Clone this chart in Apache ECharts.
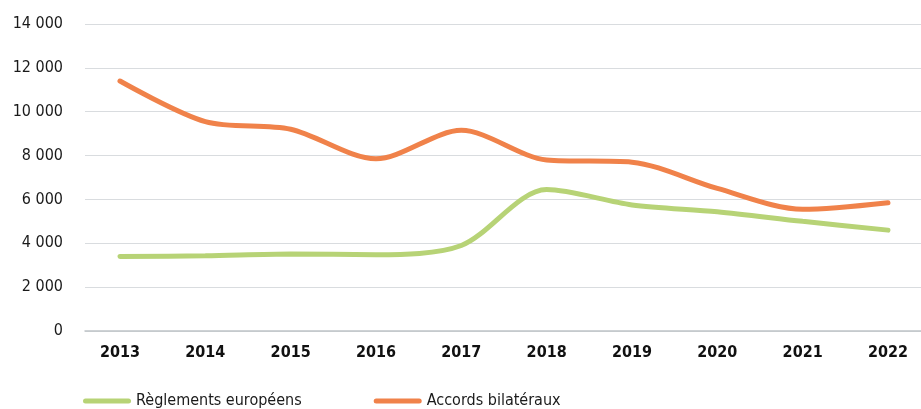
<!DOCTYPE html>
<html>
<head>
<meta charset="utf-8">
<style>
  html, body { margin: 0; padding: 0; background: #fff; }
  #chart { width: 921px; height: 409px; }
</style>
<script src="https://cdn.jsdelivr.net/npm/echarts@6/dist/echarts.min.js"></script>
</head>
<body>
<div id="chart"></div>
<script>
// Data
const years = [2013, 2014, 2015, 2016, 2017, 2018, 2019, 2020, 2021, 2022];
const reglementsEuropeens = [3400, 3430, 3510, 3480, 3900, 6450, 5750, 5440, 5000, 4600];
const accordsBilateraux = [11400, 9550, 9200, 7850, 9150, 7800, 7700, 6500, 5550, 5850];
const seriesNames = ['Règlements européens', 'Accords bilatéraux'];
const yTicks = [0, 2000, 4000, 6000, 8000, 10000, 12000, 14000];

const font = '"Liberation Sans Narrow", "DejaVu Sans Condensed", sans-serif';

function pairs(values) {
    return years.map(function(y, i) { return [y, values[i]]; });
}

function fmtThousands(v) {
    return String(v).replace(/\B(?=(\d{3})+(?!\d))/g, ' ');
}

const chart = echarts.init(document.getElementById('chart'));

const option = {
    animation: false,
    grid: { left: 85, right: 0, top: 24, bottom: 78 },
    legend: {
        left: 83,
        top: 393,
        padding: 0,
        itemWidth: 48,
        itemHeight: 5,
        itemGap: 72,
        icon: 'path://M2.5,0 L45.5,0 A2.5,2.5 0 0 1 45.5,5 L2.5,5 A2.5,2.5 0 0 1 2.5,0 Z',
        textStyle: { fontFamily: font, fontSize: 16, color: '#1a1a1a' },
        data: seriesNames
    },
    xAxis: {
        type: 'value',
        min: 2012.59,
        max: 2022.387,
        splitLine: { show: false },
        axisTick: { show: false },
        axisLine: { show: true, lineStyle: { color: '#bfc3c7', width: 1.5 } },
        axisLabel: {
            customValues: years,
            formatter: function(v) { return String(v); },
            fontFamily: font,
            fontWeight: 'bold',
            fontSize: 16,
            color: '#111',
            margin: 14
        }
    },
    yAxis: {
        type: 'value',
        min: yTicks[0],
        max: yTicks[yTicks.length - 1],
        interval: 2000,
        axisLine: { show: false },
        axisTick: { show: false },
        splitLine: { lineStyle: { color: '#d9dcdf', width: 1 } },
        axisLabel: {
            formatter: fmtThousands,
            fontFamily: font,
            fontSize: 16,
            color: '#1a1a1a',
            margin: 22
        }
    },
    series: [
        {
            name: seriesNames[0],
            type: 'line',
            data: pairs(reglementsEuropeens),
            smooth: 0.3,
            symbol: 'none',
            color: '#b7d376',
            lineStyle: { width: 5, color: '#b7d376', cap: 'round' }
        },
        {
            name: seriesNames[1],
            type: 'line',
            data: pairs(accordsBilateraux),
            smooth: 0.3,
            symbol: 'none',
            color: '#f0824a',
            lineStyle: { width: 5, color: '#f0824a', cap: 'round' }
        }
    ]
};

chart.setOption(option);
</script>
</body>
</html>
